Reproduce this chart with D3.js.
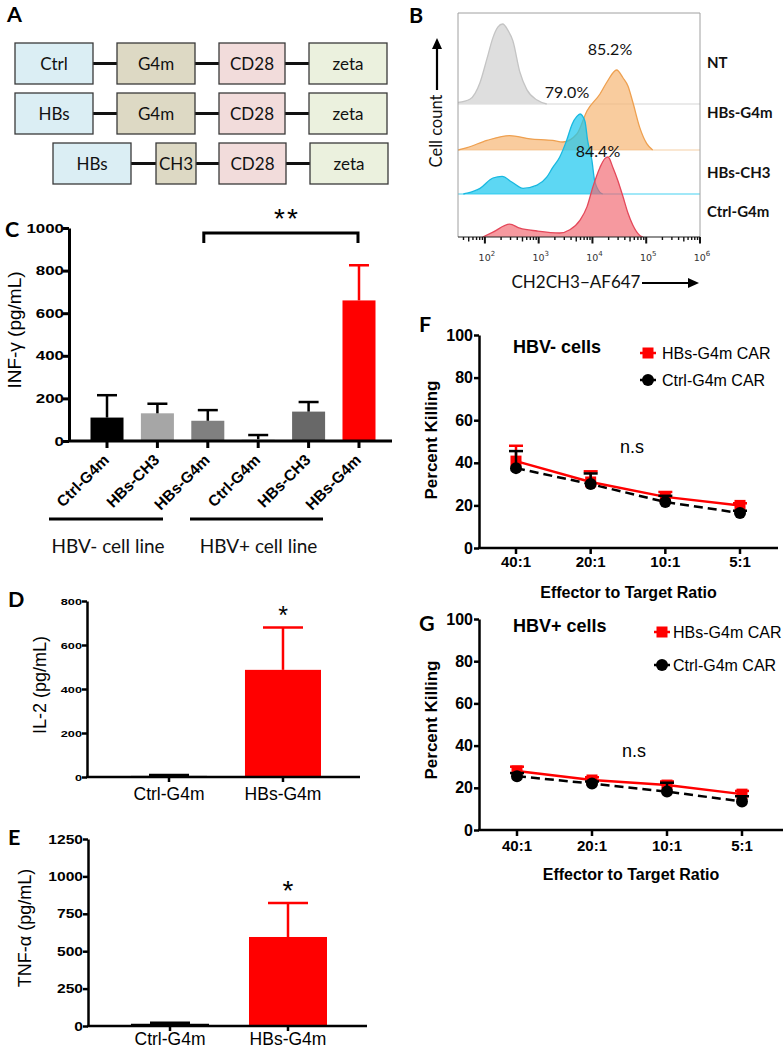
<!DOCTYPE html>
<html><head><meta charset="utf-8">
<script src="https://cdn.jsdelivr.net/npm/d3@7"></script>
<style>body{margin:0;background:#fff}svg{display:block}</style>
</head><body>
<svg id="c" width="784" height="1050"></svg>
<script>
// ---------------- DATA ----------------
// Panel A: CAR constructs
const constructRows = [["Ctrl","G4m","CD28","zeta"],["HBs","G4m","CD28","zeta"],["HBs","CH3","CD28","zeta"]];
// Panel B: flow histograms, [log10 intensity, relative count]
const flowSamples = ["NT","HBs-G4m","HBs-CH3","Ctrl-G4m"];
const flowPercents = ["85.2%","79.0%","84.4%"];
const flowTickExp = [2,3,4,5,6];
const histNT = [[1.5,0.02],[1.72,0.06],[1.91,0.27],[2.04,0.57],[2.15,0.83],[2.24,0.96],[2.33,1.0],[2.43,0.92],[2.52,0.79],[2.65,0.40],[2.78,0.18],[2.97,0.05],[3.15,0]];
const histHBsG4m = [[1.5,0],[1.67,0.03],[2.04,0.12],[2.46,0.18],[2.84,0.14],[3.26,0.12],[3.45,0.1],[3.71,0.2],[3.9,0.49],[4.14,0.7],[4.27,0.85],[4.45,1.0],[4.57,0.9],[4.66,0.8],[4.75,0.6],[4.88,0.28],[5.01,0.08],[5.12,0]];
const histHBsCH3 = [[1.6,0],[1.67,0.01],[1.91,0.07],[2.15,0.2],[2.32,0.22],[2.5,0.15],[2.71,0.07],[2.97,0.11],[3.15,0.21],[3.26,0.33],[3.39,0.46],[3.52,0.67],[3.62,0.87],[3.71,0.97],[3.77,1.0],[3.86,0.91],[3.91,0.67],[3.99,0.42],[4.04,0.17],[4.14,0.02],[4.19,0]];
const histCtrlG4m = [[1.96,0],[2.15,0.06],[2.46,0.16],[2.65,0.11],[2.97,0.075],[3.39,0.05],[3.58,0.09],[3.77,0.21],[3.9,0.38],[4.01,0.63],[4.14,0.87],[4.23,0.98],[4.29,1.0],[4.38,0.87],[4.47,0.71],[4.57,0.5],[4.66,0.3],[4.75,0.15],[4.88,0.02],[4.94,0]];
// Panel C: IFN-gamma
const ifnCategories = ["Ctrl-G4m","HBs-CH3","HBs-G4m","Ctrl-G4m","HBs-CH3","HBs-G4m"];
const ifnMean = [110,130,95,8,138,660];
const ifnErrTop = [215,175,145,28,183,825];
const ifnTicks = [0,200,400,600,800,1000];
const ifnGroups = ["HBV- cell line","HBV+ cell line"];
// Panel D: IL-2
const il2Categories = ["Ctrl-G4m","HBs-G4m"];
const il2Mean = [5,487];
const il2ErrTop = [9,680];
const il2Ticks = [0,200,400,600,800];
// Panel E: TNF-alpha
const tnfCategories = ["Ctrl-G4m","HBs-G4m"];
const tnfMean = [15,595];
const tnfErrTop = [22,822];
const tnfTicks = [0,250,500,750,1000,1250];
// Panels F, G: killing
const ratios = ["40:1","20:1","10:1","5:1"];
const killTicks = [0,20,40,60,80,100];
const killSeries = ["HBs-G4m CAR","Ctrl-G4m CAR"];
const fHBsMean = [40.8,31,24,20];
const fHBsTop = [48,36,26.3,21];
const fCtrlMean = [37.5,30,21.6,16.4];
const fCtrlTop = [45.5,35,24.5,17.5];
const gHBsMean = [28,23.7,21.3,17];
const gHBsTop = [30,25,23,18.5];
const gCtrlMean = [25.5,22,18.2,13.5];
const gCtrlTop = [27,23,22.4,16];

// ---------------- DRAWING ----------------
const svg = d3.select("#c");
const ARIAL = "'Liberation Sans', Arial, Helvetica, sans-serif";
const LATO = "Lato, 'Open Sans', sans-serif";

function txt(g, x, y, s, o = {}) {
  let tr = `translate(${x},${y})`;
  if (o.sx) tr += ` scale(${o.sx},1)`;
  if (o.rot) tr += ` rotate(${o.rot})`;
  const t = g.append("text").attr("transform", tr)
    .attr("font-family", o.ff || ARIAL).attr("font-size", o.fs || 14)
    .attr("font-weight", o.fw || "normal").attr("text-anchor", o.anchor || "start")
    .attr("fill", o.fill || "#000").text(s);
  if (o.ls) t.attr("letter-spacing", o.ls);
  return t;
}

// panel letters
[["A",7,22],["B",409,23],["C",5,237],["D",8,607],["E",8,845],["F",419,332],["G",419,631]]
  .forEach(([l,x,y]) => txt(svg, x, y, l, {ff: LATO, fs: 21.5, fw: "bold"}));

// ---- Panel A ----
(function(){
  const g = svg.append("g");
  const fills = {Ctrl:"#dbeef4", HBs:"#dbeef4", G4m:"#ddd9c4", CH3:"#ddd9c4", CD28:"#f2dcdb", zeta:"#ebf1de"};
  const boxX = [
    [[15,93],[117,195],[219,285],[309,387]],
    [[15,93],[117,195],[219,285],[309,387]],
    [[53,131],[156,196],[219,286],[310,388]]
  ];
  const rowY = [43,93,143], bh = 41;
  constructRows.forEach((row, r) => {
    const cy = rowY[r] + bh/2;
    for (let i = 0; i < row.length - 1; i++) {
      g.append("line").attr("x1", boxX[r][i][1]).attr("x2", boxX[r][i+1][0])
        .attr("y1", cy).attr("y2", cy).attr("stroke", "#111").attr("stroke-width", 3);
    }
    row.forEach((lab, i) => {
      const [x0, x1] = boxX[r][i];
      g.append("rect").attr("x", x0).attr("y", rowY[r]).attr("width", x1 - x0).attr("height", bh)
        .attr("fill", fills[lab]).attr("stroke", "#3a3a3a").attr("stroke-width", 1.3);
      txt(g, (x0 + x1)/2, cy + 6, lab, {ff: LATO, fs: 17, anchor: "middle", fill: "#111"});
    });
  });
})();

// ---- Panel B ----
(function(){
  const g = svg.append("g");
  const x = d3.scaleLog().domain([Math.pow(10,1.5), 1e6]).range([458,700]);
  const h = d3.scaleLinear().domain([0,1]).range([0,80]);
  const L = 458, R = 700, T = 13, B = 237;
  const rows = [
    {data: histNT, base: 104, fill: "#dedede", stroke: "#c4c4c4", op: 1, line: "#d6d6d6"},
    {data: histHBsG4m, base: 150, fill: "#f6b978", stroke: "#eea050", op: 0.72, line: "#f6cfa5"},
    {data: histHBsCH3, base: 194, fill: "#1ec8ee", stroke: "#18b8e0", op: 0.72, line: "#44d2f2"},
    {data: histCtrlG4m, base: 237, fill: "#f2646e", stroke: "#e4485a", op: 0.66, line: null}
  ];
  g.append("clipPath").attr("id","clipB").append("rect").attr("x",L).attr("y",T).attr("width",R-L).attr("height",B-T);
  const pg = g.append("g").attr("clip-path","url(#clipB)");
  rows.forEach(rw => {
    if (rw.line) pg.append("line").attr("x1",L).attr("x2",R).attr("y1",rw.base).attr("y2",rw.base)
      .attr("stroke",rw.line).attr("stroke-width",1.2);
    const area = d3.area().x(d => x(Math.pow(10,d[0]))).y0(rw.base).y1(d => rw.base - h(d[1])).curve(d3.curveMonotoneX);
    const line = d3.line().x(d => x(Math.pow(10,d[0]))).y(d => rw.base - h(d[1])).curve(d3.curveMonotoneX);
    pg.append("path").attr("d", area(rw.data)).attr("fill", rw.fill).attr("fill-opacity", rw.op);
    pg.append("path").attr("d", line(rw.data)).attr("fill","none").attr("stroke", rw.stroke).attr("stroke-width",1.3);
  });
  g.append("path").attr("d",`M${L},${B}V${T}H${R}V${B}`).attr("fill","none").attr("stroke","#a0a0a0").attr("stroke-width",1);
  const ax = g.append("g").attr("transform",`translate(0,${B})`);
  ax.append("line").attr("x1",L).attr("x2",R).attr("stroke","#222").attr("stroke-width",1.2);
  x.ticks().forEach(v => {
    const e = Math.log10(v);
    const major = Math.abs(e - Math.round(e)) < 1e-6;
    const m = v / Math.pow(10, Math.floor(e + 1e-9));
    const len = major ? 6.5 : (Math.round(m) === 5 ? 4.5 : 3);
    ax.append("line").attr("x1",x(v)).attr("x2",x(v)).attr("y1",0).attr("y2",len)
      .attr("stroke","#111").attr("stroke-width", major ? 2 : 1.4);
  });
  flowTickExp.forEach(e => {
    const t = g.append("text").attr("x", x(Math.pow(10,e)) + 2).attr("y", 261)
      .attr("font-family","'DejaVu Sans', sans-serif").attr("font-size",9.5).attr("fill","#333")
      .attr("text-anchor","middle");
    t.append("tspan").text("10");
    t.append("tspan").attr("dy",-5).attr("font-size",7).text(e);
  });
  const lblY = [68,118,178,217];
  flowSamples.forEach((s,i) => txt(g, 707, lblY[i], s, {ff: LATO, fs: 15, fw: "bold", fill: "#111"}));
  const pctPos = [[610,55],[567,98],[598,157]];
  flowPercents.forEach((p,i) => txt(g, pctPos[i][0], pctPos[i][1], p, {ff: LATO, fs: 16, anchor: "middle", fill: "#111"}));
  txt(g, 442, 131, "Cell count", {ff: LATO, fs: 16.5, anchor: "middle", rot: -90, fill: "#111"});
  g.append("line").attr("x1",437).attr("x2",437).attr("y1",90).attr("y2",46).attr("stroke","#000").attr("stroke-width",2.2);
  g.append("path").attr("d","M437,38L432,49L442,49Z").attr("fill","#000");
  txt(g, 576, 288, "CH2CH3\u2212AF647", {ff: LATO, fs: 17, anchor: "middle", fill: "#111"});
  g.append("line").attr("x1",642).attr("x2",690).attr("y1",283).attr("y2",283).attr("stroke","#000").attr("stroke-width",2.2);
  g.append("path").attr("d","M699,283L688,278L688,288Z").attr("fill","#000");
})();

function leftAxis(g, y, ticks, xPos, o) {
  const ax = g.append("g").attr("transform",`translate(${xPos},0)`)
    .call(d3.axisLeft(y).tickValues(ticks).tickFormat(d3.format("d")).tickSize(o.tick).tickSizeOuter(0).tickPadding(0));
  ax.select(".domain").attr("stroke","#000").attr("stroke-width",o.sw);
  ax.selectAll(".tick line").attr("stroke","#000").attr("stroke-width",o.sw);
  ax.selectAll(".tick text").each(function(){
    d3.select(this).attr("x",0)
      .attr("transform",`translate(${-o.gap},0)` + (o.sx ? ` scale(${o.sx},1)` : ""))
      .attr("font-family",ARIAL).attr("font-size",o.fs).attr("font-weight","bold").attr("fill","#000");
  });
  return ax;
}

function barPanel(g, cats, means, tops, y, x, opts) {
  cats.forEach((c,i) => {
    const v = means[i];
    g.append("rect").attr("x", x(i)).attr("y", y(v)).attr("width", x.bandwidth())
      .attr("height", y(0) - y(v)).attr("fill", opts.colors[i]);
  });
  cats.forEach((c,i) => {
    const cx = x(i) + x.bandwidth()/2;
    const col = opts.errColors[i];
    g.append("line").attr("x1",cx).attr("x2",cx).attr("y1",y(means[i])).attr("y2",y(tops[i]))
      .attr("stroke",col).attr("stroke-width",opts.esw);
    g.append("line").attr("x1",cx-opts.cap/2).attr("x2",cx+opts.cap/2).attr("y1",y(tops[i])).attr("y2",y(tops[i]))
      .attr("stroke",col).attr("stroke-width",opts.esw);
  });
  g.append("line").attr("x1",opts.x0).attr("x2",opts.x1).attr("y1",y(0)).attr("y2",y(0))
    .attr("stroke","#000").attr("stroke-width",opts.sw);
  cats.forEach((c,i) => {
    const cx = x(i) + x.bandwidth()/2;
    g.append("line").attr("x1",cx).attr("x2",cx).attr("y1",y(0)).attr("y2",y(0)+opts.tick)
      .attr("stroke","#000").attr("stroke-width",opts.sw);
  });
}

// ---- Panel C ----
(function(){
  const g = svg.append("g");
  const y = d3.scaleLinear().domain([0,1000]).range([441,228]);
  const x = d3.scaleBand().domain(d3.range(ifnCategories.length)).range([90.5,375.5]).paddingInner(0.345).paddingOuter(0);
  barPanel(g, ifnCategories, ifnMean, ifnErrTop, y, x, {
    colors: ["#000000","#a6a6a6","#808080","#d9d9d9","#686868","#ff0000"],
    errColors: ["#000","#000","#000","#000","#000","#ff0000"],
    esw: 2.5, cap: 20, x0: 68, x1: 392, sw: 3, tick: 7
  });
  leftAxis(g, y, ifnTicks, 69, {tick: 6, sw: 3, gap: 5, sx: 1.3, fs: 13});
  ifnCategories.forEach((c,i) => {
    const cx = x(i) + x.bandwidth()/2;
    txt(g, cx + 3, 461, c, {fs: 15.5, fw: "bold", anchor: "end", rot: -45});
  });
  [[49,163],[190,323]].forEach(([a,b],k) => {
    g.append("line").attr("x1",a).attr("x2",b).attr("y1",519).attr("y2",519).attr("stroke","#000").attr("stroke-width",3);
    txt(g, (a+b)/2 + 2, 553, ifnGroups[k], {ff: LATO, fs: 19, anchor: "middle", fill: "#111"});
  });
  const cA = x(2) + x.bandwidth()/2 - 4, cB = x(5) + x.bandwidth()/2 - 1;
  g.append("path").attr("d",`M${cA},243V233H${cB}V243`).attr("fill","none").attr("stroke","#000").attr("stroke-width",3);
  txt(g, 287, 228, "**", {fs: 28, anchor: "middle", ls: 2});
  txt(g, 21, 330, "INF-\u03b3 (pg/mL)", {fs: 19, anchor: "middle", rot: -90});
})();

// ---- Panel D ----
(function(){
  const g = svg.append("g");
  const y = d3.scaleLinear().domain([0,800]).range([777,601]);
  const x = d3.scaleBand().domain(d3.range(il2Categories.length)).range([131,321]).paddingInner(0.333).paddingOuter(0);
  barPanel(g, il2Categories, il2Mean, il2ErrTop, y, x, {
    colors: ["#000","#ff0000"], errColors: ["#000","#ff0000"], esw: 2.5, cap: 40, x0: 86, x1: 360, sw: 2.5, tick: 5
  });
  leftAxis(g, y, il2Ticks, 87, {tick: 5, sw: 2.5, gap: 5, sx: 1.3, fs: 9.8});
  il2Categories.forEach((c,i) => txt(g, x(i) + x.bandwidth()/2, 800, c, {fs: 17.5, anchor: "middle"}));
  txt(g, 283, 624, "*", {fs: 25, anchor: "middle"});
  txt(g, 46, 685, "IL-2 (pg/mL)", {fs: 18, anchor: "middle", rot: -90});
})();

// ---- Panel E ----
(function(){
  const g = svg.append("g");
  const y = d3.scaleLinear().domain([0,1250]).range([1026,839]);
  const x = d3.scaleBand().domain(d3.range(tnfCategories.length)).range([131,327]).paddingInner(0.339).paddingOuter(0);
  barPanel(g, tnfCategories, tnfMean, tnfErrTop, y, x, {
    colors: ["#000","#ff0000"], errColors: ["#000","#ff0000"], esw: 2.5, cap: 40, x0: 87, x1: 367, sw: 2.5, tick: 5
  });
  leftAxis(g, y, tnfTicks, 88, {tick: 5, sw: 2.5, gap: 5, sx: 1.25, fs: 12.5});
  tnfCategories.forEach((c,i) => txt(g, x(i) + x.bandwidth()/2, 1045, c, {fs: 17.5, anchor: "middle"}));
  txt(g, 288, 900, "*", {fs: 28, anchor: "middle"});
  txt(g, 31, 928, "TNF-\u03b1 (pg/mL)", {fs: 18, anchor: "middle", rot: -90});
})();

// ---- Panels F, G ----
function killPanel(cfg) {
  const g = svg.append("g");
  const y = d3.scaleLinear().domain([0,100]).range([cfg.y0, cfg.y100]);
  const x = d3.scalePoint().domain(ratios).range(cfg.xr);
  const ax = g.append("g").attr("transform",`translate(479,0)`)
    .call(d3.axisLeft(y).tickValues(killTicks).tickSize(5).tickSizeOuter(0).tickPadding(1));
  ax.select(".domain").attr("stroke","#000").attr("stroke-width",2.5);
  ax.selectAll(".tick line").attr("stroke","#000").attr("stroke-width",2.5);
  ax.selectAll(".tick text").attr("font-family",ARIAL).attr("font-size",16).attr("font-weight","bold").attr("fill","#000");
  g.append("line").attr("x1",478).attr("x2",cfg.xEnd).attr("y1",cfg.y0).attr("y2",cfg.y0).attr("stroke","#000").attr("stroke-width",2.5);
  ratios.forEach(r => {
    g.append("line").attr("x1",x(r)).attr("x2",x(r)).attr("y1",cfg.y0).attr("y2",cfg.y0+6).attr("stroke","#000").attr("stroke-width",2.5);
    txt(g, x(r), cfg.tickBase, r, {fs: 15, fw: "bold", anchor: "middle"});
  });
  txt(g, (479 + cfg.xEnd)/2, cfg.titleBase, "Effector to Target Ratio", {fs: 16, fw: "bold", anchor: "middle"});
  txt(g, 437, cfg.ylabC, "Percent Killing", {fs: 17, fw: "bold", anchor: "middle", rot: -90});
  txt(g, 513, cfg.cellBase, cfg.cellLabel, {fs: 18, fw: "bold"});
  txt(g, cfg.nsX, cfg.nsBase, "n.s", {fs: 18, anchor: "middle"});

  const line = d3.line().x((d,i) => x(ratios[i])).y(d => y(d));
  g.append("path").attr("d", line(cfg.ctrlMean)).attr("fill","none").attr("stroke","#000").attr("stroke-width",2.5).attr("stroke-dasharray","9,5");
  g.append("path").attr("d", line(cfg.hbsMean)).attr("fill","none").attr("stroke","#ff0000").attr("stroke-width",2.5);
  function errs(means, tops, col) {
    means.forEach((m,i) => {
      const cx = x(ratios[i]);
      g.append("line").attr("x1",cx).attr("x2",cx).attr("y1",y(m)).attr("y2",y(tops[i])).attr("stroke",col).attr("stroke-width",2.5);
      g.append("line").attr("x1",cx-7).attr("x2",cx+7).attr("y1",y(tops[i])).attr("y2",y(tops[i])).attr("stroke",col).attr("stroke-width",2.5);
    });
  }
  errs(cfg.hbsMean, cfg.hbsTop, "#ff0000");
  cfg.hbsMean.forEach((m,i) => g.append("rect").attr("x",x(ratios[i])-5.5).attr("y",y(m)-5.5).attr("width",11).attr("height",11).attr("fill","#ff0000"));
  errs(cfg.ctrlMean, cfg.ctrlTop, "#000");
  cfg.ctrlMean.forEach((m,i) => g.append("circle").attr("cx",x(ratios[i])).attr("cy",y(m)).attr("r",6).attr("fill","#000"));
  const lx = cfg.legX;
  g.append("line").attr("x1",lx-8).attr("x2",lx+8).attr("y1",cfg.legY[0]).attr("y2",cfg.legY[0]).attr("stroke","#ff0000").attr("stroke-width",2.5);
  g.append("rect").attr("x",lx-5.5).attr("y",cfg.legY[0]-5.5).attr("width",11).attr("height",11).attr("fill","#ff0000");
  g.append("line").attr("x1",lx-8).attr("x2",lx+8).attr("y1",cfg.legY[1]).attr("y2",cfg.legY[1]).attr("stroke","#000").attr("stroke-width",2.5);
  g.append("circle").attr("cx",lx).attr("cy",cfg.legY[1]).attr("r",6).attr("fill","#000");
  killSeries.forEach((s,i) => txt(g, cfg.legTextX, cfg.legY[i] + 6, s, {fs: 16}));
}
killPanel({y0: 548, y100: 335, xr: [516,740], xEnd: 778, tickBase: 567, titleBase: 598, ylabC: 440,
  cellBase: 353, cellLabel: "HBV- cells", nsX: 632, nsBase: 453,
  hbsMean: fHBsMean, hbsTop: fHBsTop, ctrlMean: fCtrlMean, ctrlTop: fCtrlTop,
  legX: 648, legTextX: 662, legY: [353,380]});
killPanel({y0: 830, y100: 619, xr: [517,742], xEnd: 783, tickBase: 851, titleBase: 880, ylabC: 720,
  cellBase: 632, cellLabel: "HBV+ cells", nsX: 634, nsBase: 757,
  hbsMean: gHBsMean, hbsTop: gHBsTop, ctrlMean: gCtrlMean, ctrlTop: gCtrlTop,
  legX: 662, legTextX: 673, legY: [632,665]});
</script>
</body></html>
